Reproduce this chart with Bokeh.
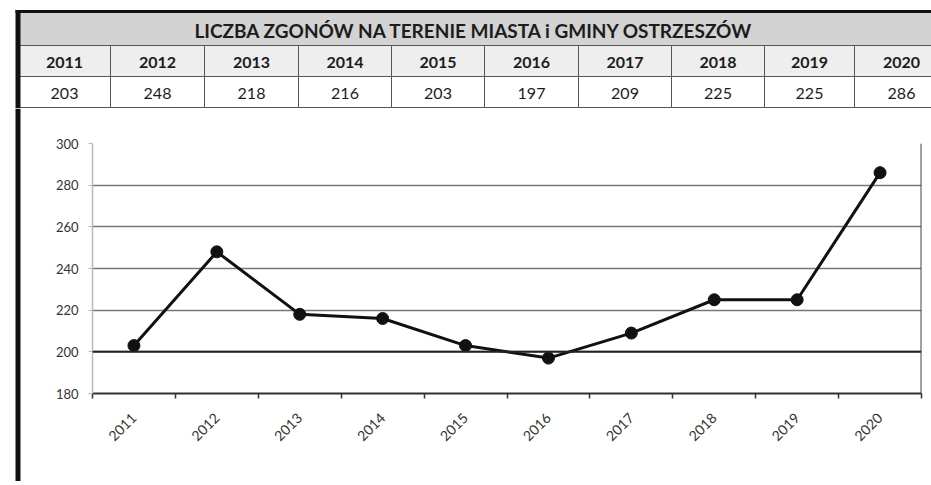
import math
from bokeh.plotting import figure
from bokeh.layouts import column, row
from bokeh.models import Span, FixedTicker, Range1d
from bokeh.core.properties import value
from bokeh.embed import file_html
from bokeh.resources import INLINE

# ---------------- data ----------------
title_text = "LICZBA ZGONÓW NA TERENIE MIASTA i GMINY OSTRZESZÓW"
years = [2011, 2012, 2013, 2014, 2015, 2016, 2017, 2018, 2019, 2020]
deaths = [203, 248, 218, 216, 203, 197, 209, 225, 225, 286]
y_ticks = [180, 200, 220, 240, 260, 280, 300]

# ---------------- layout / style ----------------
W = 931
TABLE_H = 108
FOOT_H = 4
CHART_H = 485 - TABLE_H - FOOT_H
STRIP_W = 21
FONT = "Lato"
TXT = "#1c1c1c"
GRID_LINE = "#555555"
col_edges = [18, 110, 204, 298, 391, 484, 578, 671, 764, 854, 948]
row_edges = [12, 45, 76, 107]   # title / years / values (px from top)
BAR_X0, BAR_X1 = 15, 20
FRAME_L, FRAME_R, FRAME_T, FRAME_B = 92, 921, 143, 393   # page px


def blank(width, height):
    f = figure(width=width, height=height, output_backend="svg", toolbar_location=None,
               x_range=Range1d(0, width), y_range=Range1d(height, 0),
               x_axis_location=None, y_axis_location=None,
               min_border=0, min_border_left=0, min_border_right=0,
               min_border_top=0, min_border_bottom=0)
    f.grid.visible = False
    f.outline_line_color = None
    f.background_fill_color = "white"
    f.border_fill_color = "white"
    return f


# ---------------- table ----------------
t = blank(W, TABLE_H)
t.quad(left=[col_edges[0]], right=[col_edges[-1]], top=[row_edges[0]], bottom=[row_edges[1]],
       fill_color="#d3d3d3", line_color=GRID_LINE, line_width=1)
t.quad(left=col_edges[:-1], right=col_edges[1:],
       top=[row_edges[1]] * len(years), bottom=[row_edges[2]] * len(years),
       fill_color="#eeeeee", line_color=GRID_LINE, line_width=1)
t.quad(left=col_edges[:-1], right=col_edges[1:],
       top=[row_edges[2]] * len(years), bottom=[row_edges[3]] * len(years),
       fill_color="#ffffff", line_color=GRID_LINE, line_width=1)
centers = [(a + b) / 2 for a, b in zip(col_edges[:-1], col_edges[1:])]
t.text(x=[474], y=[(row_edges[0] + row_edges[1]) / 2 + 1], text=[title_text],
       text_font=value(FONT), text_font_size="19px", text_font_style="bold",
       text_color=TXT, text_align="center", text_baseline="middle")
t.text(x=centers, y=[(row_edges[1] + row_edges[2]) / 2 + 1] * len(years),
       text=[str(y) for y in years],
       text_font=value(FONT), text_font_size="16px", text_font_style="bold",
       text_color=TXT, text_align="center", text_baseline="middle")
t.text(x=centers, y=[(row_edges[2] + row_edges[3]) / 2 + 1] * len(deaths),
       text=[str(v) for v in deaths],
       text_font=value(FONT), text_font_size="16px",
       text_color=TXT, text_align="center", text_baseline="middle")
t.quad(left=[BAR_X0], right=[W], top=[9.5], bottom=[12.5], fill_color="#111111", line_color=None)
t.quad(left=[BAR_X0], right=[BAR_X1], top=[9.5], bottom=[TABLE_H], fill_color="#111111",
       line_color=None)

# ---------------- left strip (thick frame) ----------------
s = blank(STRIP_W, CHART_H)
s.quad(left=[BAR_X0], right=[BAR_X1], top=[0], bottom=[CHART_H], fill_color="#111111",
       line_color=None)

# ---------------- chart ----------------
p = figure(width=W - STRIP_W, height=CHART_H, output_backend="svg", toolbar_location=None,
           x_range=Range1d(years[0] - 0.5, years[-1] + 0.5),
           y_range=Range1d(y_ticks[0], y_ticks[-1]),
           min_border_left=FRAME_L - STRIP_W, min_border_right=W - FRAME_R,
           min_border_top=FRAME_T - TABLE_H,
           min_border_bottom=(TABLE_H + CHART_H) - FRAME_B)
p.background_fill_color = "white"
p.border_fill_color = "white"
p.outline_line_color = None

p.line(years, deaths, line_color="#111111", line_width=3)
p.scatter(years, deaths, size=12, color="#111111")

p.add_layout(Span(location=200, dimension="width", line_color="#222222", line_width=2))
p.add_layout(Span(location=years[-1] + 0.5, dimension="height",
                  line_color="#444444", line_width=2))

p.xgrid.visible = False
p.ygrid.ticker = FixedTicker(ticks=y_ticks)
p.ygrid.grid_line_color = "#777777"
p.ygrid.grid_line_width = 1.5

ya = p.yaxis[0]
ya.ticker = FixedTicker(ticks=y_ticks)
ya.axis_line_color = "#bbbbbb"
ya.axis_line_width = 1.5
ya.major_tick_line_color = "#bbbbbb"
ya.major_tick_out = 4
ya.major_tick_in = 0
ya.minor_tick_line_color = None
ya.major_label_text_font = FONT
ya.major_label_text_font_size = "13px"
ya.major_label_text_color = "#333333"
ya.major_label_standoff = 10

xa = p.xaxis[0]
xa.ticker = FixedTicker(ticks=years,
                        minor_ticks=[y - 0.5 for y in years] + [years[-1] + 0.5])
xa.major_label_overrides = {y: str(y) for y in years}
xa.axis_line_color = "#333333"
xa.axis_line_width = 2
xa.major_tick_line_color = None
xa.major_tick_in = 0
xa.major_tick_out = 0
xa.minor_tick_line_color = "#333333"
xa.minor_tick_line_width = 1.5
xa.minor_tick_in = 0
xa.minor_tick_out = 5
xa.major_label_orientation = math.pi / 4
xa.major_label_text_font = FONT
xa.major_label_text_font_size = "14px"
xa.major_label_text_color = "#333333"
xa.major_label_standoff = 17

# ---------------- footer (bottom frame line) ----------------
f = blank(W, FOOT_H)
f.quad(left=[BAR_X0], right=[BAR_X1], top=[0], bottom=[FOOT_H], fill_color="#111111",
       line_color=None)
f.quad(left=[BAR_X1], right=[W], top=[1.3], bottom=[2.7], fill_color="#aaaaaa",
       line_color=None)

layout = column(t, row(column(s), p, spacing=0), f, spacing=0)
open("out.html", "w").write(file_html(layout, INLINE))
